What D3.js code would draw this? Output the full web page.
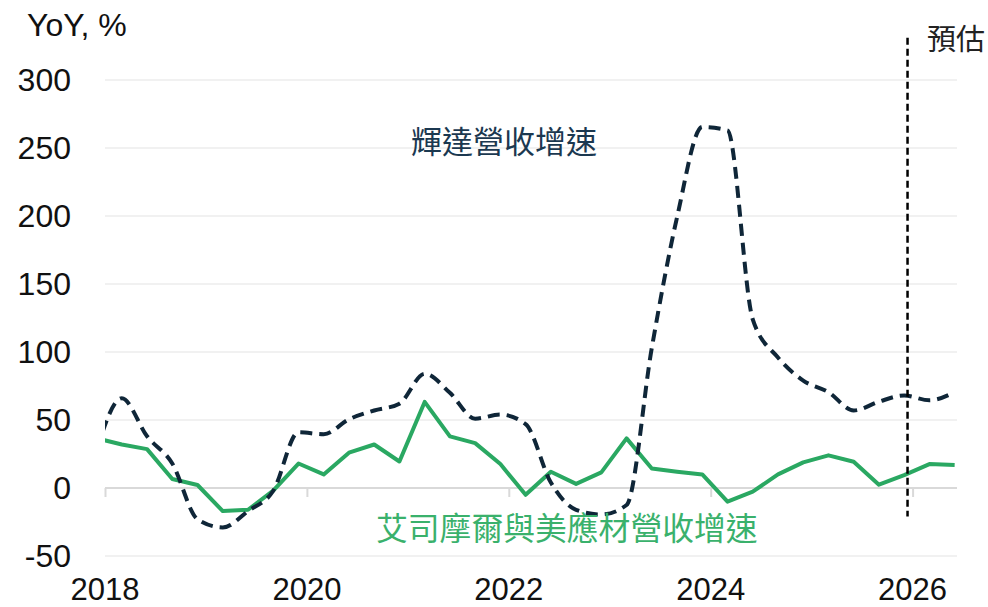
<!DOCTYPE html>
<html>
<head>
<meta charset="utf-8">
<style>
body { margin: 0; background: #fff; }
text { font-family: "Liberation Sans", Arial, sans-serif; }
.cjk { font-family: "Noto Sans CJK TC", "Noto Sans CJK SC", sans-serif; }
</style>
</head>
<body>
<svg width="988" height="607"></svg>
<script src="https://d3js.org/d3.v7.min.js"></script>
<script>

// quarterly periods (year-month), first one sits just left of the plot and gets clipped
var periods = ["2017-12",
  "2018-03","2018-06","2018-09","2018-12",
  "2019-03","2019-06","2019-09","2019-12",
  "2020-03","2020-06","2020-09","2020-12",
  "2021-03","2021-06","2021-09","2021-12",
  "2022-03","2022-06","2022-09","2022-12",
  "2023-03","2023-06","2023-09","2023-12",
  "2024-03","2024-06","2024-09","2024-12",
  "2025-03","2025-06","2025-09","2025-12",
  "2026-03","2026-06"];

var nvidiaGrowth = [28, 66, 38, 18, -23, -29, -17, -2, 41, 39.5, 50.5, 57, 62, 84, 70,
  51, 54, 47, 4, -16, -19.5, -12.5, 103, 199, 265.5, 263, 124, 96, 79, 70.5,
  57, 63.5, 68, 64.5, 70.5];

var equipGrowth = [36.5, 32, 28.6, 6.6, 2.2, -17, -16, -2, 18, 10, 26, 32, 19.5, 63.3, 38,
  33, 17.6, -5, 12, 3, 11.5, 36.5, 14.4, 12, 10, -10, -2.7, 10, 18.8, 24,
  19.3, 2.4, 9.5, 17.6, 17];

var yTicks = [-50, 0, 50, 100, 150, 200, 250, 300];
var xTicks = [2018, 2020, 2022, 2024, 2026];
var forecastAt = 2025.95;

var svg = d3.select("svg");

function toYear(p) {
  var parts = p.split("-");
  return +parts[0] + (+parts[1] - 1) / 12;
}

var x = d3.scaleLinear().domain([2018, 2026.44]).range([105, 957]);
var y = d3.scaleLinear().domain([-50, 300]).range([556, 80]);

svg.append("defs").append("clipPath").attr("id", "plot")
  .append("rect").attr("x", x.range()[0]).attr("y", 0)
  .attr("width", x.range()[1] - x.range()[0]).attr("height", 607);

// gridlines
svg.append("g").selectAll("line")
  .data(yTicks.filter(function(d) { return d != 0; }))
  .enter().append("line")
    .attr("x1", x.range()[0]).attr("x2", x.range()[1])
    .attr("y1", function(d) { return y(d); })
    .attr("y2", function(d) { return y(d); })
    .attr("stroke", "#ececec").attr("stroke-width", 1.5);

// y labels
svg.append("g").selectAll("text")
  .data(yTicks)
  .enter().append("text")
    .attr("x", 71)
    .attr("y", function(d) { return y(d); })
    .attr("dy", "0.35em")
    .attr("text-anchor", "end")
    .attr("font-size", 32)
    .attr("fill", "#111")
    .text(function(d) { return d; });

// zero axis with ticks
var xAxis = d3.axisBottom(x).tickValues(xTicks).tickSize(9).tickFormat(d3.format("d"));
var gx = svg.append("g").attr("transform", "translate(0," + y(0) + ")").call(xAxis);
gx.select(".domain").attr("stroke", "#d9d9d9").attr("stroke-width", 2)
  .attr("d", "M" + x.range()[0] + ",0H" + x.range()[1]);
gx.selectAll(".tick line").attr("stroke", "#d9d9d9").attr("stroke-width", 2);
gx.selectAll(".tick text").remove();

svg.append("g").selectAll("text")
  .data(xTicks)
  .enter().append("text")
    .attr("x", function(d) { return x(d); })
    .attr("y", 600)
    .attr("text-anchor", "middle")
    .attr("font-size", 31)
    .attr("fill", "#111")
    .text(function(d) { return d; });

svg.append("text")
  .attr("x", 27).attr("y", 36)
  .attr("font-size", 32).attr("fill", "#111")
  .text("YoY, %");

var plot = svg.append("g").attr("clip-path", "url(#plot)");

var equipLine = d3.line()
  .x(function(d, i) { return x(toYear(periods[i])); })
  .y(function(d) { return y(d); });

var nvLine = d3.line()
  .x(function(d, i) { return x(toYear(periods[i])); })
  .y(function(d) { return y(d); })
  .curve(d3.curveMonotoneX);

plot.append("path")
  .datum(equipGrowth)
  .attr("d", equipLine)
  .attr("fill", "none")
  .attr("stroke", "#2aa862")
  .attr("stroke-width", 4)
  .attr("stroke-linejoin", "round");

plot.append("path")
  .datum(nvidiaGrowth)
  .attr("d", nvLine)
  .attr("fill", "none")
  .attr("stroke", "#0f2638")
  .attr("stroke-width", 4)
  .attr("stroke-dasharray", "12,7");

// forecast marker
svg.append("line")
  .attr("x1", x(forecastAt)).attr("x2", x(forecastAt))
  .attr("y1", y(331)).attr("y2", y(-21))
  .attr("stroke", "#000").attr("stroke-width", 2.5)
  .attr("stroke-dasharray", "7,4");

svg.append("text").attr("class", "cjk")
  .attr("x", 927).attr("y", 50)
  .attr("font-size", 29).attr("fill", "#222")
  .text("預估");

svg.append("text").attr("class", "cjk")
  .attr("x", 411).attr("y", 153)
  .attr("font-size", 31).attr("fill", "#1b3850")
  .text("輝達營收增速");

svg.append("text").attr("class", "cjk")
  .attr("x", 376).attr("y", 540)
  .attr("font-size", 31.8).attr("fill", "#3ab16c")
  .text("艾司摩爾與美應材營收增速");

</script>
</body>
</html>
